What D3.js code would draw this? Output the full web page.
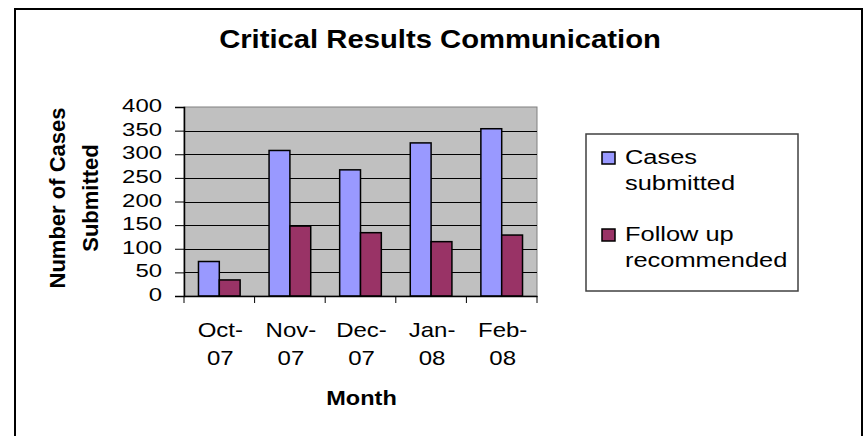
<!DOCTYPE html>
<html>
<head>
<meta charset="utf-8">
<script src="https://cdn.jsdelivr.net/npm/d3@7"></script>
<style>
  body { margin: 0; background: #fff; }
  text { font-family: Arial, "Liberation Sans", sans-serif; }
</style>
</head>
<body>
<svg id="chart" width="864" height="436"></svg>
<script>
const months = ['Oct-07', 'Nov-07', 'Dec-07', 'Jan-08', 'Feb-08']
const casesSubmitted = [73, 308, 267, 324, 354]
const followUp = [34, 148, 134, 115, 129]
const seriesNames = ['Cases submitted', 'Follow up recommended']
const seriesColors = ['#9999FF', '#993366']
const yTicks = [0, 50, 100, 150, 200, 250, 300, 350, 400]

const plot = { left: 184, right: 537, top: 107, bottom: 296 }
// the source picture is a bit wide, so text is stretched sideways
const stretch = 1.27

const svg = d3.select('#chart')

// outer frame
svg.append('rect')
  .attr('x', 15).attr('y', 9)
  .attr('width', 847).attr('height', 440)
  .attr('fill', 'white')
  .attr('stroke', 'black')
  .attr('stroke-width', 2)

svg.append('g')
  .attr('transform', 'translate(440,48) scale(1.17,1)')
  .append('text')
    .attr('text-anchor', 'middle')
    .style('font-size', '25px')
    .style('font-weight', 'bold')
    .text('Critical Results Communication')

const x = d3.scaleBand()
  .domain(months)
  .range([plot.left, plot.right])
  .paddingInner(0.41)
  .paddingOuter(0.205)

const xGroup = d3.scaleBand()
  .domain(months)
  .range([plot.left, plot.right])

const y = d3.scaleLinear()
  .domain([0, 400])
  .range([plot.bottom, plot.top])

// plot background
svg.append('rect')
  .attr('x', plot.left).attr('y', plot.top)
  .attr('width', plot.right - plot.left)
  .attr('height', plot.bottom - plot.top)
  .attr('fill', '#C0C0C0')
  .attr('stroke', '#808080')
  .attr('stroke-width', 1)

// gridlines
svg.append('g')
  .selectAll('line')
  .data(yTicks.filter((d) => d > 0 && d < 400))
  .join('line')
    .attr('x1', plot.left).attr('x2', plot.right)
    .attr('y1', (d) => Math.round(y(d)) + 0.5)
    .attr('y2', (d) => Math.round(y(d)) + 0.5)
    .attr('stroke', 'black')
    .attr('stroke-width', 1)

// bars
const sub = d3.scaleBand()
  .domain([0, 1])
  .range([0, x.bandwidth()])

const data = months.map((m, i) => ({ month: m, values: [casesSubmitted[i], followUp[i]] }))

svg.append('g')
  .selectAll('g')
  .data(data)
  .join('g')
    .attr('transform', (d) => `translate(${x(d.month)},0)`)
  .selectAll('rect')
  .data((d) => d.values.map((v, k) => ({ v, k })))
  .join('rect')
    .attr('x', (d) => sub(d.k))
    .attr('y', (d) => y(d.v))
    .attr('width', sub.bandwidth())
    .attr('height', (d) => y(0) - y(d.v))
    .attr('fill', (d) => seriesColors[d.k])
    .attr('stroke', 'black')
    .attr('stroke-width', 1.5)

// y axis
const yAxis = svg.append('g')
  .attr('transform', `translate(${plot.left},0)`)
  .call(d3.axisLeft(y).tickValues(yTicks).tickSize(9).tickPadding(4))
yAxis.select('.domain').attr('stroke', 'black').attr('stroke-width', 1.5)
yAxis.selectAll('.tick line').attr('stroke', 'black')
yAxis.selectAll('.tick text')
  .attr('x', -22 / 1.33)
  .attr('dy', '0.25em')
  .attr('transform', 'scale(1.33,1)')
  .style('font-size', '18px')
  .style('font-family', 'Arial, "Liberation Sans", sans-serif')
  .attr('fill', 'black')

// x axis
const xAxis = svg.append('g')
  .attr('transform', `translate(0,${plot.bottom})`)
  .call(d3.axisBottom(xGroup).tickSize(0).tickFormat(''))
xAxis.select('.domain').attr('stroke', 'black').attr('stroke-width', 1.5)

svg.append('g')
  .selectAll('line')
  .data(months.concat(['end']))
  .join('line')
    .attr('x1', (d, i) => i < months.length ? xGroup(d) : plot.right)
    .attr('x2', (d, i) => i < months.length ? xGroup(d) : plot.right)
    .attr('y1', plot.bottom)
    .attr('y2', plot.bottom + 7)
    .attr('stroke', 'black')

const xLabels = svg.append('g')
  .selectAll('g')
  .data(months)
  .join('g')
    .attr('transform', (d) => `translate(${xGroup(d) + xGroup.bandwidth() / 2 + 1},337) scale(1.2,1)`)
  .append('text')
    .attr('text-anchor', 'middle')
    .style('font-size', '20px')
xLabels.append('tspan')
  .attr('x', 0)
  .text((d) => d.split('-')[0] + '-')
xLabels.append('tspan')
  .attr('x', 0)
  .attr('dy', 28)
  .text((d) => d.split('-')[1])

svg.append('g')
  .attr('transform', `translate(${(plot.left + plot.right) / 2 + 1},405) scale(1.12,1)`)
  .append('text')
    .attr('text-anchor', 'middle')
    .style('font-size', '21px')
    .style('font-weight', 'bold')
    .text('Month')

// y axis title
const yTitle = svg.append('text')
  .attr('transform', 'translate(0,198) rotate(-90)')
  .attr('text-anchor', 'middle')
  .style('font-size', '22px')
  .style('font-weight', 'bold')
yTitle.append('tspan').attr('x', 0).attr('y', 65).text('Number of Cases')
yTitle.append('tspan').attr('x', 0).attr('y', 98).text('Submitted')

// legend
const legend = svg.append('g')
legend.append('rect')
  .attr('x', 586).attr('y', 134)
  .attr('width', 212).attr('height', 157)
  .attr('fill', 'white')
  .attr('stroke', '#404040')
  .attr('stroke-width', 1.5)

const legendLines = [['Cases', 'submitted'], ['Follow up', 'recommended']]
const item = legend.selectAll('g.item')
  .data(seriesNames)
  .join('g')
    .attr('class', 'item')
    .attr('transform', (d, i) => `translate(0,${i * 77})`)
item.append('rect')
  .attr('x', 602).attr('y', 152)
  .attr('width', 13).attr('height', 12)
  .attr('fill', (d, i) => seriesColors[i])
  .attr('stroke', 'black')
  .attr('stroke-width', 1.5)
const lt = item.append('g')
  .attr('transform', `translate(625,164) scale(${stretch},1)`)
  .append('text')
    .style('font-size', '20px')
lt.append('tspan').attr('x', 0).text((d, i) => legendLines[i][0])
lt.append('tspan').attr('x', 0).attr('dy', 26.5).text((d, i) => legendLines[i][1])
</script>
</body>
</html>
